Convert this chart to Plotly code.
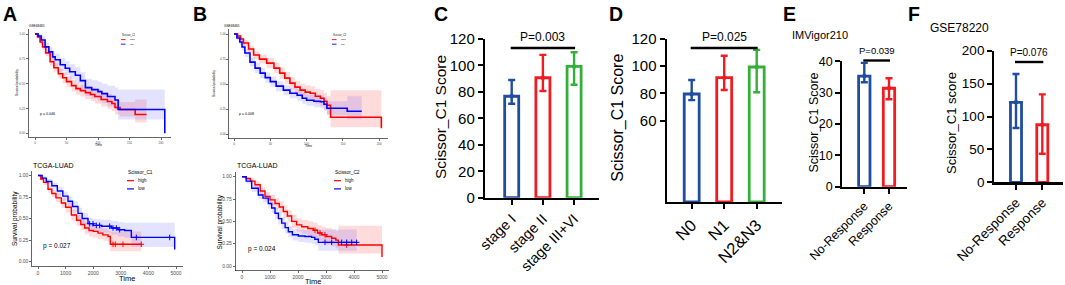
import plotly.graph_objects as go

W, H = 1065, 285
FONT = "Arial, Liberation Sans, Helvetica, sans-serif"

# ---------------- KM data ----------------
# A top: GSE68465, Scissor_C1 (months)
A1_high_t = [0, 4, 8, 12, 17, 24, 30, 37, 44, 50, 58, 65, 72, 80, 88, 95, 105, 115, 122, 127, 135, 159, 177]
A1_high_s = [1.00, 0.97, 0.92, 0.87, 0.81, 0.72, 0.66, 0.60, 0.56, 0.52, 0.48, 0.45, 0.43, 0.41, 0.39, 0.37, 0.34, 0.32, 0.30, 0.26, 0.24, 0.19, 0.19]
A1_high_lo = [1.00, 0.955, 0.895, 0.84, 0.775, 0.68, 0.615, 0.55, 0.505, 0.465, 0.42, 0.39, 0.37, 0.345, 0.325, 0.30, 0.27, 0.245, 0.225, 0.19, 0.17, 0.11, 0.11]
A1_high_hi = [1.00, 0.985, 0.945, 0.90, 0.845, 0.76, 0.705, 0.65, 0.615, 0.575, 0.54, 0.51, 0.49, 0.475, 0.455, 0.44, 0.41, 0.395, 0.375, 0.335, 0.315, 0.34, 0.34]
A1_low_t = [0, 5, 10, 16, 22, 28, 32, 40, 48, 55, 64, 72, 80, 90, 100, 106, 115, 127, 132, 206]
A1_low_s = [1.00, 0.98, 0.94, 0.87, 0.82, 0.77, 0.74, 0.69, 0.655, 0.62, 0.585, 0.53, 0.46, 0.44, 0.42, 0.40, 0.37, 0.335, 0.24, 0.00]
A1_low_lo = [1.00, 0.96, 0.905, 0.825, 0.77, 0.715, 0.68, 0.625, 0.585, 0.545, 0.505, 0.445, 0.375, 0.35, 0.33, 0.305, 0.27, 0.235, 0.14, 0.14]
A1_low_hi = [1.00, 0.995, 0.975, 0.915, 0.87, 0.825, 0.80, 0.755, 0.725, 0.695, 0.665, 0.615, 0.55, 0.535, 0.52, 0.50, 0.48, 0.46, 0.44, 0.44]

# B top: GSE68465, Scissor_C2 (months)
B1_high_t = [0, 5, 9, 13, 20, 27, 35, 45, 55, 63, 70, 77, 84, 91, 98, 105, 112, 119, 124, 128, 133, 203]
B1_high_s = [1.00, 0.98, 0.95, 0.91, 0.85, 0.79, 0.75, 0.71, 0.66, 0.61, 0.56, 0.51, 0.47, 0.44, 0.42, 0.41, 0.38, 0.36, 0.33, 0.29, 0.17, 0.06]
B1_high_lo = [1.00, 0.97, 0.93, 0.88, 0.815, 0.75, 0.705, 0.66, 0.61, 0.555, 0.50, 0.45, 0.405, 0.375, 0.35, 0.34, 0.305, 0.28, 0.245, 0.20, 0.07, 0.07]
B1_high_hi = [1.00, 0.99, 0.97, 0.94, 0.885, 0.83, 0.795, 0.76, 0.71, 0.665, 0.62, 0.57, 0.535, 0.505, 0.49, 0.48, 0.455, 0.44, 0.415, 0.38, 0.44, 0.44]
B1_low_t = [0, 4, 8, 11, 15, 22, 29, 36, 43, 50, 58, 68, 77, 87, 94, 100, 110, 119, 124, 128, 156, 176]
B1_low_s = [1.00, 0.96, 0.92, 0.87, 0.81, 0.72, 0.66, 0.61, 0.565, 0.525, 0.48, 0.44, 0.41, 0.39, 0.36, 0.34, 0.33, 0.325, 0.30, 0.26, 0.23, 0.23]
B1_low_lo = [1.00, 0.94, 0.89, 0.835, 0.77, 0.675, 0.61, 0.56, 0.515, 0.475, 0.43, 0.39, 0.36, 0.335, 0.305, 0.285, 0.27, 0.26, 0.235, 0.19, 0.15, 0.15]
B1_low_hi = [1.00, 0.98, 0.95, 0.905, 0.85, 0.765, 0.71, 0.66, 0.615, 0.575, 0.53, 0.49, 0.46, 0.445, 0.415, 0.395, 0.39, 0.39, 0.365, 0.33, 0.38, 0.38]

# A bottom: TCGA-LUAD, Scissor_C1 (days)
A2_high_t = [0, 100, 200, 362, 500, 650, 845, 1000, 1208, 1400, 1550, 1691, 1850, 2000, 2174, 2350, 2536, 2620, 3744]
A2_high_s = [1.00, 0.96, 0.92, 0.84, 0.79, 0.74, 0.68, 0.63, 0.54, 0.48, 0.43, 0.39, 0.36, 0.35, 0.33, 0.31, 0.29, 0.20, 0.20]
A2_high_lo = [1.00, 0.94, 0.89, 0.80, 0.745, 0.69, 0.625, 0.57, 0.475, 0.415, 0.365, 0.32, 0.29, 0.28, 0.26, 0.24, 0.22, 0.12, 0.12]
A2_high_hi = [1.00, 0.98, 0.95, 0.88, 0.835, 0.79, 0.735, 0.69, 0.60, 0.545, 0.495, 0.46, 0.43, 0.42, 0.40, 0.38, 0.36, 0.35, 0.35]
A2_low_t = [0, 150, 300, 500, 700, 900, 1087, 1250, 1449, 1600, 1812, 2000, 2300, 2656, 2900, 3141, 3382, 4952]
A2_low_s = [1.00, 0.97, 0.93, 0.88, 0.82, 0.76, 0.70, 0.64, 0.56, 0.50, 0.44, 0.42, 0.41, 0.39, 0.37, 0.36, 0.28, 0.14]
A2_low_lo = [1.00, 0.95, 0.90, 0.845, 0.775, 0.71, 0.645, 0.58, 0.495, 0.435, 0.375, 0.35, 0.335, 0.31, 0.29, 0.275, 0.17, 0.17]
A2_low_hi = [1.00, 0.99, 0.96, 0.915, 0.865, 0.81, 0.755, 0.70, 0.625, 0.565, 0.51, 0.49, 0.485, 0.47, 0.455, 0.45, 0.45, 0.45]
A2_high_cens = [2717, 2800, 3080, 3744]
A2_low_cens = [1872, 1993, 2113, 2234, 2597, 2717, 2838, 2959, 3563, 4771]

# B bottom: TCGA-LUAD, Scissor_C2 (days)
B2_high_t = [0, 150, 300, 464, 650, 821, 1000, 1179, 1330, 1476, 1620, 1774, 1950, 2131, 2350, 2548, 2700, 2845, 3000, 3202, 3350, 3440, 5000]
B2_high_s = [1.00, 0.98, 0.95, 0.91, 0.84, 0.78, 0.74, 0.70, 0.66, 0.61, 0.56, 0.50, 0.46, 0.44, 0.42, 0.40, 0.37, 0.35, 0.33, 0.31, 0.29, 0.235, 0.10]
B2_high_lo = [1.00, 0.96, 0.92, 0.87, 0.795, 0.73, 0.685, 0.64, 0.595, 0.54, 0.49, 0.425, 0.385, 0.36, 0.335, 0.315, 0.285, 0.265, 0.24, 0.22, 0.20, 0.14, 0.14]
B2_high_hi = [1.00, 0.995, 0.98, 0.95, 0.885, 0.83, 0.795, 0.76, 0.725, 0.68, 0.63, 0.575, 0.535, 0.515, 0.50, 0.485, 0.455, 0.44, 0.425, 0.41, 0.39, 0.45, 0.45]
B2_low_t = [0, 150, 345, 583, 750, 940, 1060, 1179, 1300, 1417, 1540, 1655, 1800, 2012, 2250, 2488, 2600, 2726, 4095]
B2_low_s = [1.00, 0.95, 0.87, 0.795, 0.76, 0.70, 0.65, 0.59, 0.53, 0.48, 0.43, 0.384, 0.35, 0.336, 0.33, 0.321, 0.30, 0.265, 0.265]
B2_low_lo = [1.00, 0.92, 0.83, 0.75, 0.71, 0.645, 0.59, 0.525, 0.465, 0.415, 0.365, 0.32, 0.285, 0.27, 0.26, 0.25, 0.23, 0.17, 0.17]
B2_low_hi = [1.00, 0.98, 0.91, 0.84, 0.81, 0.755, 0.71, 0.65, 0.595, 0.545, 0.495, 0.45, 0.415, 0.405, 0.40, 0.395, 0.375, 0.41, 0.41]
B2_high_cens = [2607, 2786, 2964, 3738]
B2_low_cens = [2964, 3202, 3560, 3738, 3917, 4095]

surv_ticks = [0, 0.25, 0.5, 0.75, 1.0]
surv_ticktext = ["0.00", "0.25", "0.50", "0.75", "1.00"]
month_ticks = [0, 50, 100, 150, 200]
day_ticks = [0, 1000, 2000, 3000, 4000, 5000]

# ---------------- bar data ----------------
C_cats = ["stage I", "stage II", "stage III+VI"]
C_mean = [76.7, 90.7, 99.3]
C_lo = [71.0, 80.7, 85.4]
C_hi = [89.0, 108.0, 110.0]
C_ticks = [0, 20, 40, 60, 80, 100, 120]

D_cats = ["N0", "N1", "N2&N3"]
D_mean = [79.5, 91.5, 99.4]
D_lo = [75.0, 82.5, 80.8]
D_hi = [89.8, 107.7, 112.0]
D_ticks = [60, 80, 100, 120]

E_cats = ["No-Response", "Response"]
E_mean = [35.3, 31.4]
E_lo = [33.3, 27.9]
E_hi = [39.5, 34.6]
E_ticks = [0, 10, 20, 30, 40]

F_cats = ["No-Response", "Response"]
F_mean = [121.6, 87.5]
F_lo = [82.5, 43.5]
F_hi = [164.6, 133.7]
F_ticks = [0, 50, 100, 150, 200]

RED_KM, BLUE_KM = "#ff0000", "#0000ff"
BLUE, RED, GREEN = "#1f4e9f", "#f01c22", "#34b038"

fig = go.Figure()


def fx(px):
    return px / W


def fy(py):
    return 1 - py / H


layout = dict(width=W, height=H, margin=dict(l=0, r=0, t=0, b=0, pad=0, autoexpand=False),
              paper_bgcolor="white", plot_bgcolor="white", showlegend=False, hovermode=False,
              font=dict(family=FONT, color="black"))
annotations = []
shapes = []


def step_at(ts, ss, c):
    v = ss[0]
    for t, s in zip(ts, ss):
        if t <= c:
            v = s
    return v


def km_panel(idx, g, curves, ticks, tickfont, lw, censors=None):
    xa = "x" if idx == 1 else f"x{idx}"
    ya = "y" if idx == 1 else f"y{idx}"
    for (t, s, lo, hi, col, fillc) in curves:
        fig.add_trace(go.Scatter(x=t, y=hi, mode="lines", line=dict(width=0, shape="hv"),
                                 xaxis=xa, yaxis=ya, hoverinfo="skip"))
        fig.add_trace(go.Scatter(x=t, y=lo, mode="lines", line=dict(width=0, shape="hv"),
                                 fill="tonexty", fillcolor=fillc, xaxis=xa, yaxis=ya, hoverinfo="skip"))
    for (t, s, lo, hi, col, fillc) in curves:
        fig.add_trace(go.Scatter(x=t, y=s, mode="lines", line=dict(width=lw, shape="hv", color=col),
                                 xaxis=xa, yaxis=ya))
    if censors:
        for (cens, t, s, col) in censors:
            fig.add_trace(go.Scatter(x=cens, y=[step_at(t, s, c) for c in cens], mode="markers",
                                     marker=dict(symbol="cross-thin", size=4, line=dict(width=1, color=col)),
                                     xaxis=xa, yaxis=ya))
    x0, sx = g["x0"], g["sx"]
    y0, y1 = g["y0"], g["y1"]
    common = dict(showline=True, linecolor="black", linewidth=0.6, ticks="outside", automargin=False,
                  ticklen=2, tickwidth=0.6, tickcolor="black", showgrid=False, zeroline=False,
                  tickfont=dict(size=tickfont, color="#4d4d4d", family=FONT))
    layout["xaxis" if idx == 1 else f"xaxis{idx}"] = dict(
        domain=[fx(g["xl"]), fx(g["xr"])],
        range=[(g["xl"] - x0) / sx, (g["xr"] - x0) / sx],
        tickvals=ticks, anchor=ya, **common)
    layout["yaxis" if idx == 1 else f"yaxis{idx}"] = dict(
        domain=[fy(g["yb"]), fy(g["yt"])],
        range=[(y0 - g["yb"]) / (y0 - y1), (y0 - g["yt"]) / (y0 - y1)],
        tickvals=surv_ticks, ticktext=surv_ticktext, anchor=xa, **common)


def txt(x, y, s, size, anchor="center", angle=0, bold=False, color="black"):
    annotations.append(dict(x=fx(x), y=fy(y), xref="paper", yref="paper", text=(f"<b>{s}</b>" if bold else s),
                            showarrow=False, xanchor=anchor, yanchor="middle", textangle=angle,
                            font=dict(size=size, color=color, family=FONT)))


def hline(x1, x2, y, col, w):
    shapes.append(dict(type="line", xref="paper", yref="paper", x0=fx(x1), x1=fx(x2), y0=fy(y), y1=fy(y),
                       line=dict(color=col, width=w)))


RF, BF = "rgba(255,0,0,0.14)", "rgba(0,0,255,0.11)"

# ---- A top ----
gA1 = dict(xl=28.3, xr=171, x0=35, sx=0.63, yt=29, yb=137.3, y0=133.3, y1=34)
km_panel(1, gA1, [(A1_high_t, A1_high_s, A1_high_lo, A1_high_hi, RED_KM, RF),
                  (A1_low_t, A1_low_s, A1_low_lo, A1_low_hi, BLUE_KM, BF)], month_ticks, 3, 1.6)
# ---- B top ----
gB1 = dict(xl=229, xr=388, x0=234, sx=0.726, yt=29, yb=138.5, y0=134.3, y1=34)
km_panel(2, gB1, [(B1_high_t, B1_high_s, B1_high_lo, B1_high_hi, RED_KM, RF),
                  (B1_low_t, B1_low_s, B1_low_lo, B1_low_hi, BLUE_KM, BF)], month_ticks, 3, 1.6)
# ---- A bottom ----
gA2 = dict(xl=32, xr=183, x0=38, sx=0.0276, yt=171, yb=266, y0=261.5, y1=175.5)
km_panel(3, gA2, [(A2_high_t, A2_high_s, A2_high_lo, A2_high_hi, RED_KM, RF),
                  (A2_low_t, A2_low_s, A2_low_lo, A2_low_hi, BLUE_KM, BF)], day_ticks, 5, 1.4,
         censors=[(A2_high_cens, A2_high_t, A2_high_s, RED_KM), (A2_low_cens, A2_low_t, A2_low_s, BLUE_KM)])
# ---- B bottom ----
gB2 = dict(xl=235.5, xr=389, x0=242, sx=0.028, yt=172, yb=270.5, y0=266, y1=176.7)
km_panel(4, gB2, [(B2_high_t, B2_high_s, B2_high_lo, B2_high_hi, RED_KM, RF),
                  (B2_low_t, B2_low_s, B2_low_lo, B2_low_hi, BLUE_KM, BF)], day_ticks, 5, 1.4,
         censors=[(B2_high_cens, B2_high_t, B2_high_s, RED_KM), (B2_low_cens, B2_low_t, B2_low_s, BLUE_KM)])

# KM texts
txt(26.5, 25.7, "GSE68465", 3.2, anchor="left")
txt(221.5, 25.7, "GSE68465", 3.2, anchor="left")
txt(31, 165.5, "TCGA-LUAD", 7, anchor="left")
txt(235, 165.5, "TCGA-LUAD", 7, anchor="left")
txt(38, 114.3, "p = 0.046", 3.6, anchor="left")
txt(237, 114.3, "p = 0.008", 3.6, anchor="left")
txt(40.5, 245.5, "p = 0.027", 6.5, anchor="left")
txt(245.5, 248.5, "p = 0.024", 6.5, anchor="left")
txt(17, 83, "Survival probability", 3.2, angle=-90)
txt(214, 84, "Survival probability", 3.2, angle=-90)
txt(15, 219, "Survival probability", 6.5, angle=-90)
txt(219.5, 222, "Survival probability", 6.5, angle=-90)
txt(98, 145, "Time", 3.2)
txt(308, 146.3, "Time", 3.2)
txt(127, 278.5, "Time", 7.5)
txt(312.5, 281.5, "Time", 7.5)
# KM legends
for (lx, ly, name, fs, ln, dy) in [(120, 35, "Scissor_C1", 2.6, 4.5, 4.6), (331, 35, "Scissor_C2", 2.6, 4.5, 4.6),
                                   (126, 172.5, "Scissor_C1", 4.8, 7, 8.2), (333, 172.5, "Scissor_C2", 4.8, 7, 8.2)]:
    txt(lx, ly, name, fs, anchor="left")
    for k, (lab, col) in enumerate([("high", RED_KM), ("low", BLUE_KM)]):
        yy = ly + dy * (k + 1)
        hline(lx + 1, lx + 1 + ln, yy, col, 1.2 if fs > 3 else 0.9)
        txt(lx + 3 + ln, yy, lab, fs * 0.92, anchor="left")

# ---------------- bar panels ----------------
def bar_panel(idx, g, cats, mean, lo, hi, cols, yticks, tfs, xtfs):
    xa, ya = f"x{idx}", f"y{idx}"
    for i, c in enumerate(cats):
        fig.add_trace(go.Bar(x=[c], y=[mean[i]], width=g["bw"], marker=dict(color="white", line=dict(color=cols[i], width=2.8)),
                             error_y=dict(type="data", symmetric=False, array=[hi[i] - mean[i]],
                                          arrayminus=[mean[i] - lo[i]], color=cols[i], thickness=2.4, width=3.5),
                             xaxis=xa, yaxis=ya))
        fig.add_trace(go.Scatter(x=[c], y=[mean[i]], mode="markers", marker=dict(size=4.5, color=cols[i]),
                                 xaxis=xa, yaxis=ya))
    common = dict(showline=True, linecolor="black", linewidth=2.2, ticks="outside", ticklen=5, tickwidth=2,
                  tickcolor="black", showgrid=False, zeroline=False, automargin=False)
    layout[f"xaxis{idx}"] = dict(domain=[fx(g["xl"]), fx(g["xr"])], type="category", categoryorder="array",
                                 categoryarray=cats,
                                 range=[(g["xl"] - g["c0"]) / g["sp"], (g["xr"] - g["c0"]) / g["sp"]],
                                 tickangle=-45, tickfont=dict(size=xtfs, family=FONT, color="black"),
                                 anchor=ya, **common)
    layout[f"yaxis{idx}"] = dict(domain=[fy(g["yb"]), fy(g["yt"])], range=[0, g["ymax"]], tickvals=yticks,
                                 tickfont=dict(size=tfs, family=FONT, color="black"), anchor=xa, **common)


gC = dict(xl=485, xr=599, c0=511.7, sp=31.2, yt=39, yb=197.7, ymax=120, bw=0.45)
gD = dict(xl=666.7, xr=781.7, c0=691.7, sp=32.5, yt=39, yb=202, ymax=120, bw=0.46)
gE = dict(xl=842.3, xr=906.7, c0=864.3, sp=24.7, yt=61.3, yb=186.7, ymax=40, bw=0.46)
gF = dict(xl=994.3, xr=1063, c0=1016, sp=26.3, yt=50.7, yb=182.3, ymax=200, bw=0.42)
bar_panel(5, gC, C_cats, C_mean, C_lo, C_hi, [BLUE, RED, GREEN], C_ticks, 15, 14.5)
bar_panel(6, gD, D_cats, D_mean, D_lo, D_hi, [BLUE, RED, GREEN], D_ticks, 15, 16.5)
bar_panel(7, gE, E_cats, E_mean, E_lo, E_hi, [BLUE, RED], E_ticks, 12.5, 12.5)
bar_panel(8, gF, F_cats, F_mean, F_lo, F_hi, [BLUE, RED], F_ticks, 13.5, 13.5)

# significance lines & p-values
def cat_px(g, i):
    return g["c0"] + g["sp"] * i

for g, n, ly, ty, ptxt, fs in [(gC, 3, 48, 37, "P=0.003", 12), (gD, 3, 48, 37, "P=0.025", 12),
                               (gE, 2, 60.5, 50, "P=0.039", 9.5), (gF, 2, 62, 52, "P=0.076", 10)]:
    a, b = cat_px(g, 0), cat_px(g, n - 1)
    hline(a - 1, b + 1, ly, "black", 2.4)
    txt((a + b) / 2, ty, ptxt, fs)

# y-axis titles
txt(441, 117, "Scissor_C1 Score", 15.5, angle=-90)
txt(617.7, 118, "Scissor_C1 Score", 16, angle=-90)
txt(813, 122.5, "Scissor_C1 Score", 12.5, angle=-90)
txt(951, 123, "Scissor_C1 score", 13, angle=-90)
txt(820, 35, "IMVigor210", 11)
txt(959.5, 28, "GSE78220", 12)

# panel letters
for (x, y, L) in [(10, 14, "A"), (199.5, 14, "B"), (440.5, 13.5, "C"), (615.5, 13.5, "D"), (789.5, 13.5, "E"), (913.5, 13.5, "F")]:
    txt(x, y, L, 19.5, bold=True)

layout["annotations"] = annotations
layout["shapes"] = shapes
fig.update_layout(**layout)
fig.write_html("out.html", config={"displayModeBar": False, "staticPlot": True},
               post_script="document.body.style.margin='0px';document.body.style.overflow='hidden';")
